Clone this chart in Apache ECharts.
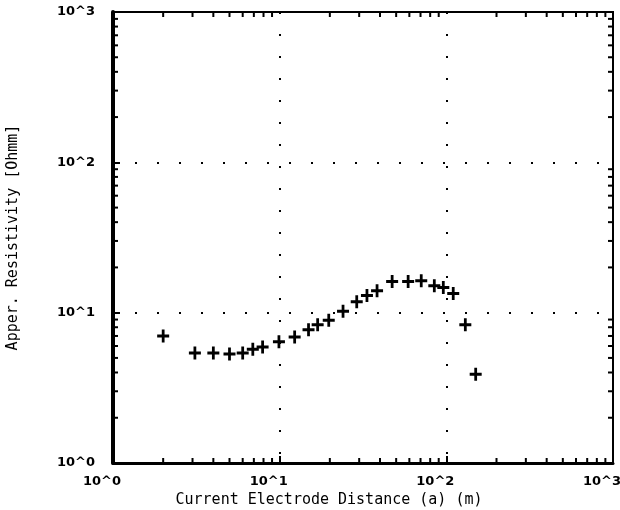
<!DOCTYPE html>
<html>
<head>
<meta charset="utf-8">
<script src="https://cdn.jsdelivr.net/npm/echarts@6/dist/echarts.min.js"></script>
<style>
    html, body { margin: 0; padding: 0; background: #fff; }
    #chart { width: 620px; height: 510px; }
</style>
</head>
<body>
<div id="chart"></div>
<script>
// electrode spacing AB/2 (m) and apparent resistivity (Ohmm)
var distance = [2.0, 3.1, 4.0, 5.0, 6.0, 6.9, 7.9, 9.9, 12.3, 14.9, 16.9, 19.7,
    24, 29, 33.4, 38.4, 47.3, 59, 70.7, 84.7, 95.9, 110, 130, 150];
var resistivity = [7.0, 5.4, 5.4, 5.3, 5.4, 5.7, 5.9, 6.4, 6.9, 7.7, 8.3, 8.9,
    10.2, 11.8, 13.0, 14.0, 16.1, 16.1, 16.3, 15.1, 14.7, 13.4, 8.3, 3.9];

// minor ticks inside each decade
var decades = [1, 10, 100];
var minorSteps = [2, 3, 4, 5, 6, 7, 8, 9];

var points = [];
for (var i = 0; i < distance.length; i++) {
    points.push([distance[i], resistivity[i]]);
}

var tickData = [];
decades.forEach(function (d) {
    minorSteps.forEach(function (s) {
        tickData.push([d * s, 'x']);
        tickData.push([d * s, 'y']);
    });
});

var myChart = echarts.init(document.getElementById('chart'));

var option = {
    animation: false,
    grid: {
        left: 113,
        right: 7,
        top: 12,
        bottom: 47,
        outerBoundsMode: 'none',
        containLabel: false,
        show: true,
        borderColor: '#000',
        borderWidth: 2
    },
    xAxis: {
        type: 'log',
        logBase: 10,
        min: 1,
        max: 1000,
        name: 'Current Electrode Distance (a) (m)',
        nameLocation: 'middle',
        nameGap: 26,
        nameTextStyle: {
            color: '#000',
            fontFamily: 'DejaVu Sans Mono',
            fontSize: 15,
            padding: [0, 68, 0, 0]
        },
        axisLine: {show: true, lineStyle: {color: '#000', width: 3}},
        axisTick: {show: true, inside: true, length: 7, lineStyle: {color: '#000', width: 2}},
        axisLabel: {
            color: '#000',
            fontFamily: 'DejaVu Sans',
            fontWeight: 'bold',
            fontSize: 13,
            margin: 12,
            padding: [0, 22, 0, 0],
            formatter: function (v) {
                return '10^' + Math.round(Math.log10(v));
            }
        },
        splitLine: {show: true, lineStyle: {color: '#000', width: 2, type: [2, 20]}}
    },
    yAxis: {
        type: 'log',
        logBase: 10,
        min: 1,
        max: 1000,
        name: 'Apper. Resistivity [Ohmm]',
        nameLocation: 'middle',
        nameGap: 92,
        nameTextStyle: {
            color: '#000',
            fontFamily: 'DejaVu Sans Mono',
            fontSize: 15
        },
        axisLine: {show: true, lineStyle: {color: '#000', width: 4}},
        axisTick: {show: true, inside: true, length: 7, lineStyle: {color: '#000', width: 2}},
        axisLabel: {
            color: '#000',
            fontFamily: 'DejaVu Sans',
            fontWeight: 'bold',
            fontSize: 13,
            margin: 18,
            formatter: function (v) {
                return '10^' + Math.round(Math.log10(v));
            }
        },
        splitLine: {show: true, lineStyle: {color: '#000', width: 2, type: [2, 20]}}
    },
    series: [
        {
            name: 'minor ticks',
            type: 'custom',
            silent: true,
            clip: false,
            data: tickData,
            renderItem: function (params, api) {
                var cs = params.coordSys;
                var v = api.value(0);
                var lines = [];
                if (tickData[params.dataIndex][1] === 'x') {
                    var px = api.coord([v, 1])[0];
                    lines.push([px, cs.y + cs.height, px, cs.y + cs.height - 5]);
                    lines.push([px, cs.y, px, cs.y + 5]);
                } else {
                    var py = api.coord([1, v])[1];
                    lines.push([cs.x, py, cs.x + 5, py]);
                    lines.push([cs.x + cs.width, py, cs.x + cs.width - 5, py]);
                }
                return {
                    type: 'group',
                    children: lines.map(function (l) {
                        return {
                            type: 'line',
                            shape: {x1: l[0], y1: l[1], x2: l[2], y2: l[3]},
                            style: {stroke: '#000', lineWidth: 2}
                        };
                    })
                };
            }
        },
        {
            name: 'Apparent resistivity',
            type: 'scatter',
            symbol: 'path://M5,0H8V5H13V8H8V13H5V8H0V5H5Z',
            symbolSize: [12, 13],
            itemStyle: {color: '#000', opacity: 1},
            data: points
        }
    ]
};

myChart.setOption(option);
window.addEventListener('resize', function () {
    myChart.resize();
});
</script>
</body>
</html>
